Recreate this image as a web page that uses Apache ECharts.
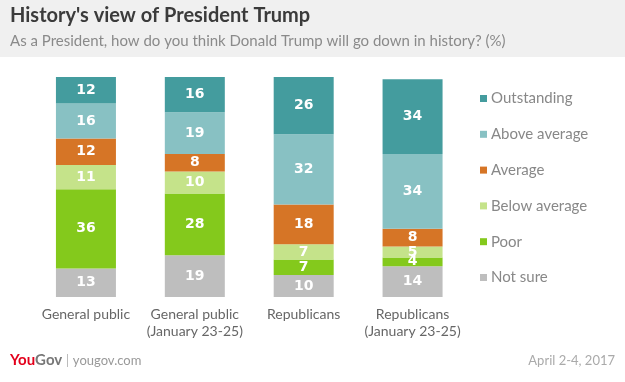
<!DOCTYPE html>
<html><head><meta charset="utf-8">
<script src="https://cdn.jsdelivr.net/npm/echarts@6/dist/echarts.min.js"></script>
<style>html,body{margin:0;padding:0;background:#fff}#c{width:625px;height:382px}</style>
</head><body><div id="c"></div>
<script>
var categories = ['General public', 'General public\n(January 23-25)', 'Republicans', 'Republicans\n(January 23-25)'];
var notSure = [13, 19, 10, 14];
var poor = [36, 28, 7, 4];
var belowAverage = [11, 10, 7, 5];
var average = [12, 8, 18, 8];
var aboveAverage = [16, 19, 32, 34];
var outstanding = [12, 16, 26, 34];
var legendOrder = ['Outstanding', 'Above average', 'Average', 'Below average', 'Poor', 'Not sure'];

var chart = echarts.init(document.getElementById('c'), null, {renderer: 'canvas'});
var font = 'Lato, "Open Sans", sans-serif';
function mk(name, data, color) {
  return {
    name: name, type: 'bar', stack: 's', data: data, barWidth: 60,
    itemStyle: {color: color},
    label: {show: true, position: 'inside', color: '#fff', fontWeight: 'bold', fontSize: 14, fontFamily: '"DejaVu Sans", sans-serif'},
    emphasis: {disabled: true}
  };
}
chart.setOption({
  animation: false,
  backgroundColor: '#fff',
  graphic: [
    {type: 'rect', shape: {x: 0, y: 0, width: 625, height: 57}, style: {fill: '#f0f0f0'}, z: -1},
    {type: 'text', left: 10, top: 6, style: {text: "History's view of President Trump", fill: '#3b3b3b', font: 'bold 20px ' + font}},
    {type: 'text', left: 10, top: 34, style: {text: 'As a President, how do you think Donald Trump will go down in history? (%)', fill: '#8a8a8a', font: '15px ' + font}},
    {type: 'text', left: 10, top: 353, style: {
      text: '{r|You}{g|Gov}{s| | }{u|yougov.com}',
      rich: {
        r: {fill: '#e3001b', font: 'bold 15px ' + font},
        g: {fill: '#777', font: 'bold 15px ' + font},
        s: {fill: '#bbb', font: '14px ' + font},
        u: {fill: '#999', font: '13px ' + font}
      }}},
    {type: 'text', right: 10, top: 354, style: {text: 'April 2-4, 2017', fill: '#aaa', font: '13px ' + font}}
  ],
  grid: {left: 31.5, right: 158, top: 77, bottom: 85},
  legend: {
    orient: 'vertical', left: 475, top: 86,
    data: legendOrder, itemWidth: 7, itemHeight: 7, itemGap: 20.8, icon: 'rect',
    textStyle: {color: '#888', fontSize: 15, fontFamily: font, padding: [0, 0, 0, -1]},
    selectedMode: false
  },
  xAxis: {
    type: 'category', data: categories,
    axisLine: {show: false}, axisTick: {show: false},
    axisLabel: {color: '#666', fontSize: 14, fontFamily: font, margin: 9, lineHeight: 17, interval: 0}
  },
  yAxis: {type: 'value', min: 0, max: 100, show: false, splitLine: {show: false}},
  series: [
    mk('Not sure', notSure, '#bebebe'),
    mk('Poor', poor, '#84c91c'),
    mk('Below average', belowAverage, '#c5e38a'),
    mk('Average', average, '#d67526'),
    mk('Above average', aboveAverage, '#88c1c3'),
    mk('Outstanding', outstanding, '#449c9e')
  ]
});
</script></body></html>
